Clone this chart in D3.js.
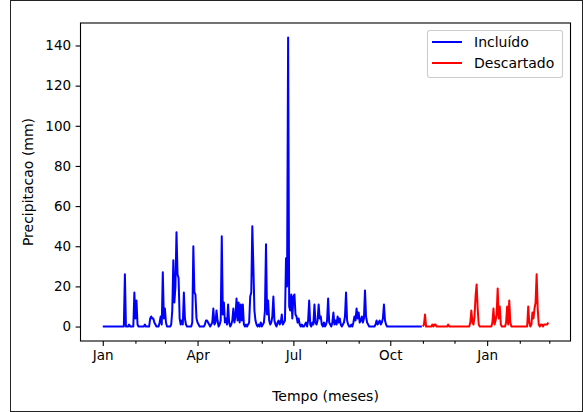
<!DOCTYPE html>
<html><head><meta charset="utf-8">
<script src="https://d3js.org/d3.v7.min.js"></script>
<style>body{margin:0;background:#fff}svg{display:block}text{font-family:"DejaVu Sans",sans-serif}</style>
</head><body><svg id="c" width="584" height="412"></svg>
<script>
// Daily precipitation (mm) — "Incluído" series, starting 2018-01-01
const incluidoStart = "2018-01-01";
const incJan = [0,0,0,0,0,0,0,0,0,0, 0,0,0,0,0,0,0,0,0,0, 0,26,0,0,0,1,0,0,0,0, 17];
const incFeb = [4,13,1,0,0,0,0,0,0,1, 0,0,0,0,4,5,4,4,2,1, 0,0,0,2,5,1,27,4];
const incMar = [9,2,0,0,0,0,1,8,33,12, 20,47,26,24,4,1,3,1,17,4, 1,0,0,0,0,0,2,40,17,16, 4];
const incApr = [2,1,0,0,0,0,0,1,3,3, 2,1,0,1,2,9,1,2,8,3, 0,1,3,45,6,12,2,4,1,11];
const incMay = [2,0,1,3,9,2,5,14,3,12, 2,11,3,11,1,0,1,0,1,2, 15,17,50,30,8,3,1,0,1,0, 2];
const incJun = [0,1,2,8,41,6,13,3,1,2, 5,15,3,1,0,2,3,1,2,6, 1,2,3,34,20,144,10,8,16,4];
const incJul = [15,16,6,5,2,4,1,0,1,0, 0,1,2,0,3,13,1,0,2,1, 11,2,1,3,11,4,5,1,0,2, 0];
const incAug = [1,3,14,2,1,0,2,7,1,3, 1,5,2,4,1,0,1,2,5,17, 3,1,0,0,1,0,2,5,3,9, 4];
const incSep = [7,2,3,5,2,4,18,5,2,1, 0,0,0,0,0,0,1,3,1,2, 3,1,2,4,11,3,1,0,0,0];
const incOct = [0,0,0,0,0,0,0,0,0,0, 0,0,0,0,0,0,0,0,0,0, 0,0,0,0,0,0,0,0,0,0, 0];
// "Descartado" series, starting 2018-11-01
const descartadoStart = "2018-11-01";
const desNov = [0,1,6,0,0,0,0,0,0,1, 0,1,1,0,0,0,0,0,0,0, 0,0,0,0,1,0,0,0,0,0];
const desDec = [0,0,0,0,0,0,0,0,0,0, 0,0,0,0,0,2,8,2,1,5, 15,21,9,1,0,0,0,0,0,0, 0];
const desJan = [0,0,0,0,0,2,9,1,3,6, 19,4,10,1,0,0,0,0,2,10, 1,13,2,0,0,0,0,0,0,0, 0];
const desFeb = [0,0,0,0,0,0,0,0,10,2, 0,1,7,4,9,12,26,9,1,0, 1,1,0,1,1,1,1,2];

const yTicks = [0,20,40,60,80,100,120,140];
const xTickDates = ["2018-01-01","2018-04-01","2018-07-01","2018-10-01","2019-01-01"];
const xTickLabels = ["Jan","Apr","Jul","Oct","Jan"];
const seriesNames = ["Incluído","Descartado"];
const seriesColors = ["#0000ff","#ff0000"];

const parse = d3.utcParse("%Y-%m-%d");
function toSeries(start, months){
  const s = parse(start); const vals = [].concat(...months);
  return vals.map((v,i)=>({date:d3.utcDay.offset(s,i), value:v}));
}
const inc = toSeries(incluidoStart,[incJan,incFeb,incMar,incApr,incMay,incJun,incJul,incAug,incSep,incOct]);
const des = toSeries(descartadoStart,[desNov,desDec,desJan,desFeb]);
const all = inc.concat(des);

const L=80.5,R=570.5,T=23,B=341;
const t0 = d3.min(all,d=>d.date), t1 = d3.max(all,d=>d.date);
const span = t1-t0, pad = span*0.05;
const x = d3.scaleUtc().domain([new Date(+t0-pad), new Date(+t1+pad)]).range([L,R]);
const vmax = d3.max(all,d=>d.value), vmin = 0, vp=(vmax-vmin)*0.05;
const y = d3.scaleLinear().domain([vmin-vp, vmax+vp]).range([B,T]);

const FS = 13.5;
const svg = d3.select("#c");
svg.append("rect").attr("x",10.5).attr("y",0.5).attr("width",572).attr("height",411).attr("fill","none").attr("stroke","#222").attr("stroke-width",1);

const line = d3.line().x(d=>x(d.date)).y(d=>y(d.value));
const g = svg.append("g");
g.append("path").datum(inc).attr("d",line).attr("fill","none").attr("stroke",seriesColors[0]).attr("stroke-width",2).attr("stroke-linejoin","round");
g.append("path").datum(des).attr("d",line).attr("fill","none").attr("stroke",seriesColors[1]).attr("stroke-width",2).attr("stroke-linejoin","round");

// axes
const yAxis = d3.axisLeft(y).tickValues(yTicks).tickSize(4.9).tickPadding(4.5);
const ya = svg.append("g").attr("transform",`translate(${L},0)`).call(yAxis);
const xMajor = xTickDates.map(parse);
const xAxis = d3.axisBottom(x).tickValues(xMajor).tickFormat((d,i)=>xTickLabels[i]).tickSize(4.9).tickPadding(4.5);
const xa = svg.append("g").attr("transform",`translate(0,${B})`).call(xAxis);
const minor = d3.utcMonth.range(d3.utcMonth.ceil(x.domain()[0]), x.domain()[1]).filter(d=>!xMajor.some(m=>+m===+d));
const xm = svg.append("g").attr("transform",`translate(0,${B})`).call(d3.axisBottom(x).tickValues(minor).tickSize(2.8).tickFormat(""));
[ya,xa,xm].forEach(a=>{a.select(".domain").remove(); a.selectAll("line").attr("stroke","#000").attr("stroke-width",1.1); a.selectAll("text").attr("font-size",FS).attr("fill","#000").attr("font-family","DejaVu Sans");});
svg.append("rect").attr("x",L).attr("y",T).attr("width",R-L).attr("height",B-T).attr("fill","none").attr("stroke","#000").attr("stroke-width",1.1);

svg.append("text").attr("x",(L+R)/2).attr("y",401).attr("text-anchor","middle").attr("font-size",14).text("Tempo (meses)");
svg.append("text").attr("transform",`translate(33,${(T+B)/2}) rotate(-90)`).attr("text-anchor","middle").attr("font-size",14).text("Precipitacao (mm)");

// legend
const lg = svg.append("g");
lg.append("rect").attr("x",427.5).attr("y",30.5).attr("width",135).attr("height",47).attr("rx",2.5).attr("fill","#fff").attr("fill-opacity",0.8).attr("stroke","#cccccc").attr("stroke-width",1.1);
seriesNames.forEach((n,i)=>{
  const yy = 42 + i*21;
  lg.append("line").attr("x1",432).attr("x2",462).attr("y1",yy).attr("y2",yy).attr("stroke",seriesColors[i]).attr("stroke-width",2);
  lg.append("text").attr("x",474).attr("y",yy+5).attr("font-size",14).attr("fill","#000").text(n);
});
</script></body></html>
